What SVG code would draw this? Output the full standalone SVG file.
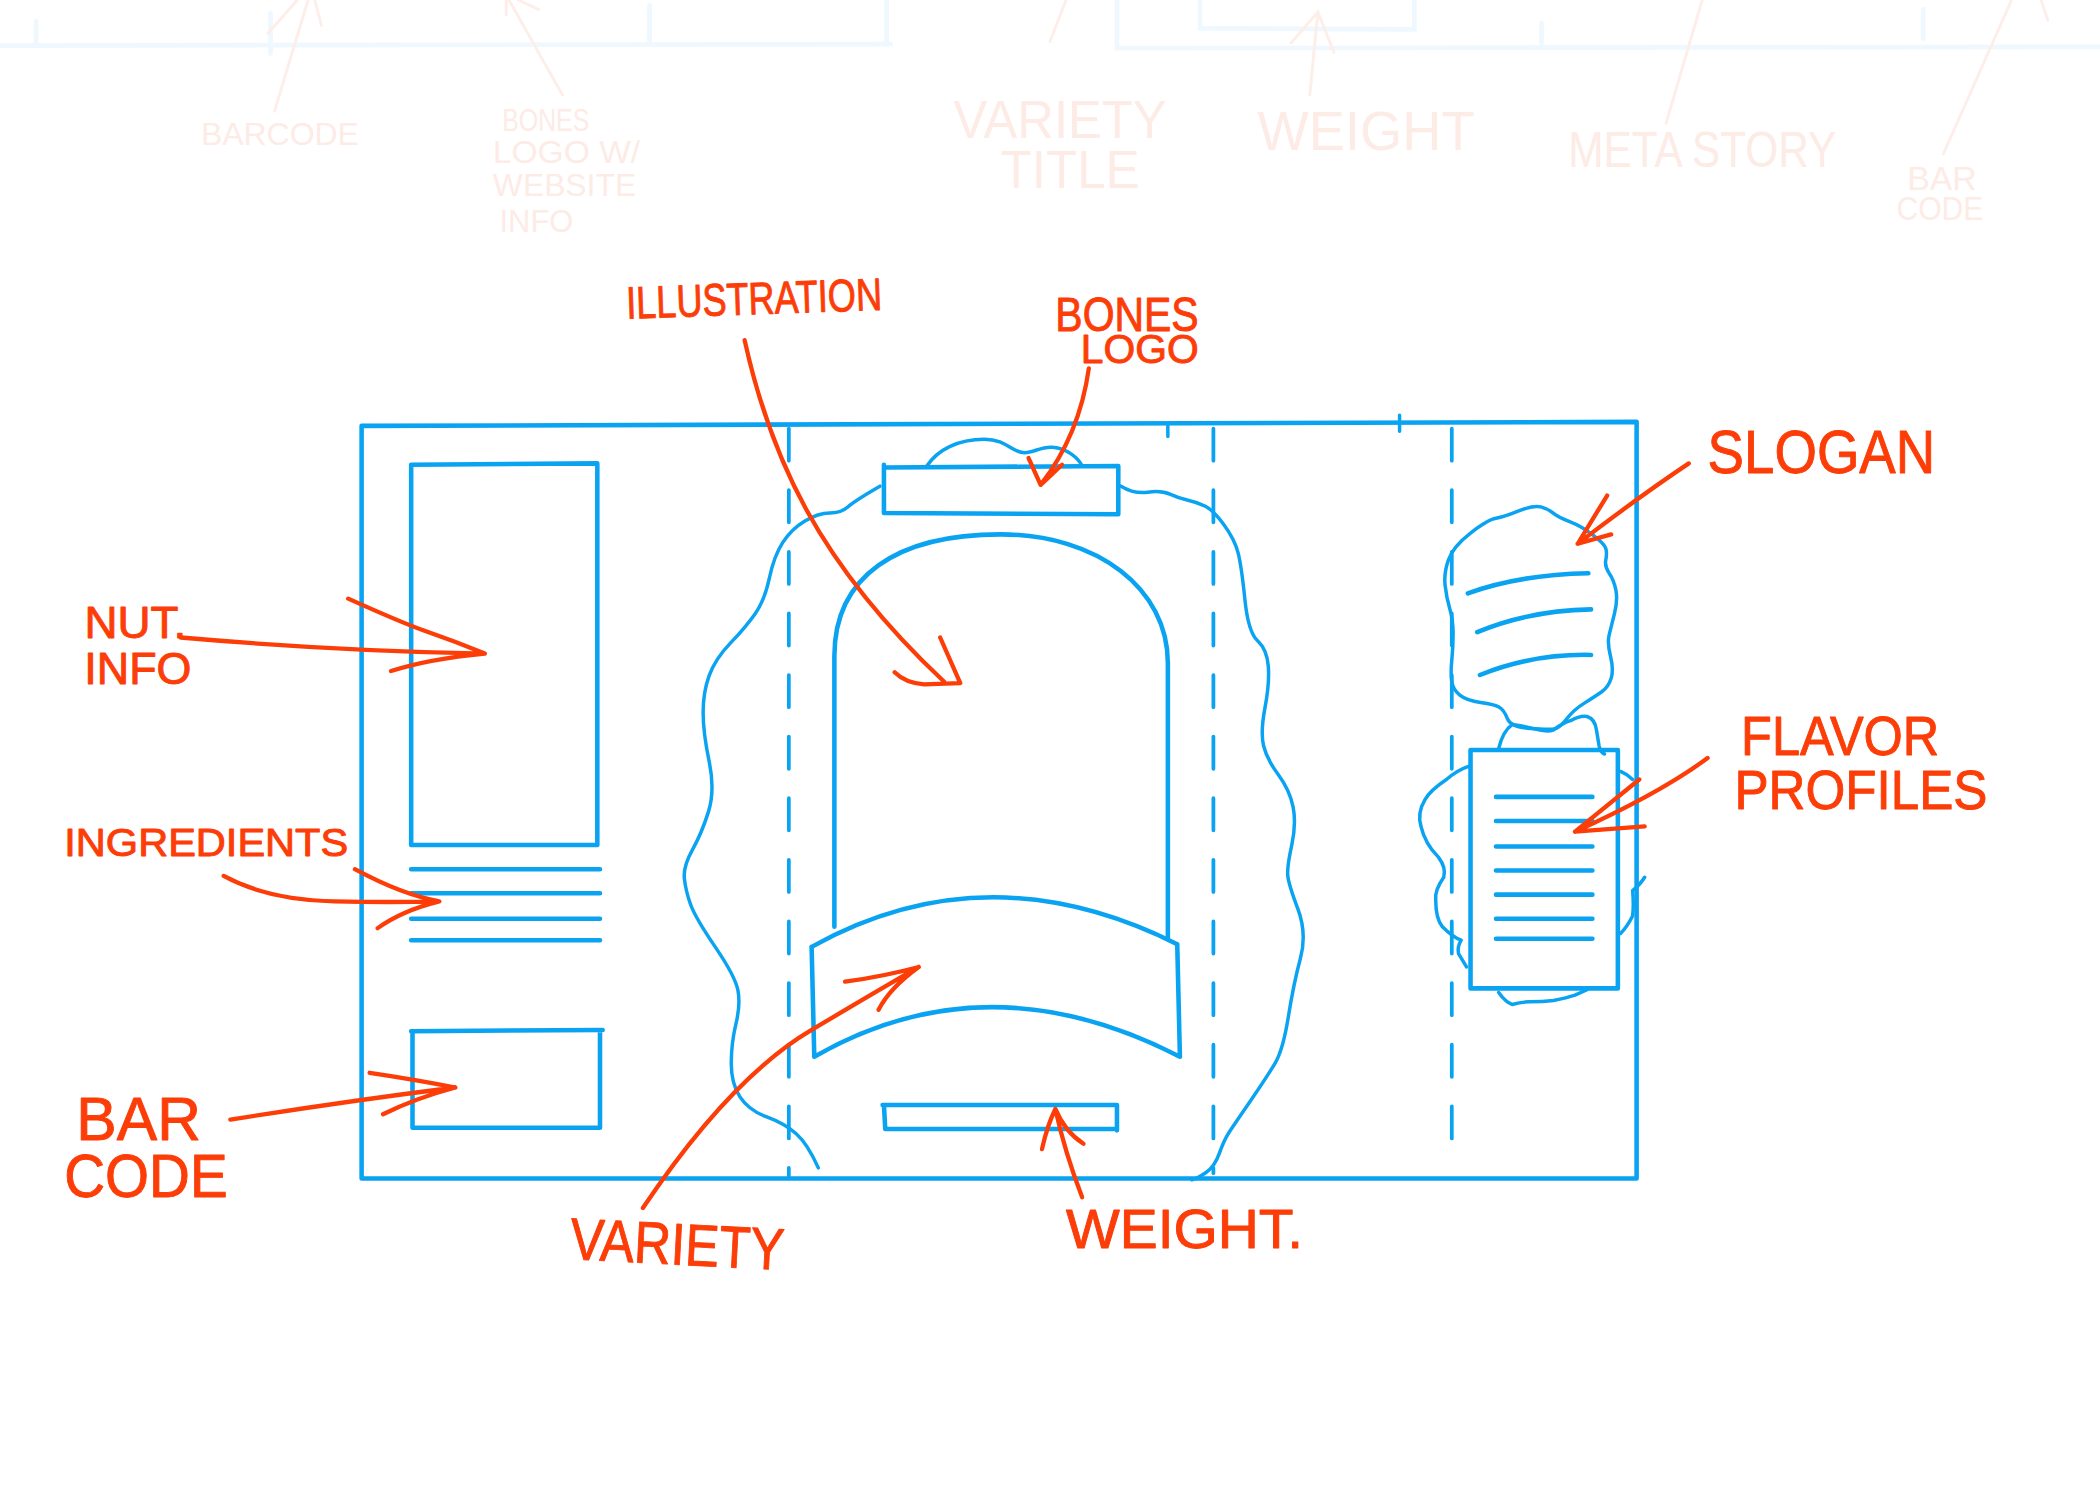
<svg xmlns="http://www.w3.org/2000/svg" width="2100" height="1500" viewBox="0 0 2100 1500">
<style>
.b{fill:none;stroke:#0aa3f2;stroke-width:3.4;stroke-linecap:round;stroke-linejoin:round}
.bt{fill:none;stroke:#0aa3f2;stroke-width:2.6;stroke-linecap:round;stroke-linejoin:round}
.d{fill:none;stroke:#0aa3f2;stroke-width:2.8;stroke-linecap:round;stroke-dasharray:24 22}
.r{fill:none;stroke:#fc3d08;stroke-width:3.2;stroke-linecap:round;stroke-linejoin:round}
.t{font-family:"Liberation Sans",Arial,sans-serif;fill:#fc3d08;stroke:#fc3d08;stroke-width:0.7;stroke-linejoin:round}
.gt{font-family:"Liberation Sans",Arial,sans-serif;fill:#fdebe6}
.gr{fill:none;stroke:#fdeee9;stroke-width:2.2;stroke-linecap:round}
.gb{fill:none;stroke:#eef8fe;stroke-width:3.5;stroke-linecap:round}
</style>
<rect width="2100" height="1500" fill="#ffffff"/>
<g transform="scale(1.339286)">
  <g id="ghost">
    <path class="gb" d="M0 34 L665 33 M662 0 L662 32 M834 0 L834 36 L1568 35 M896 0 L896 21 L1056 22 L1056 0 M27 16 L27 32 M202 10 L202 40 M485 4 L485 31 M1151 17 L1151 32 M1436 7 L1436 29"/>
    <path class="gr" d="M205 83 L230 0 M235 0 L240 19 M200 25 L222 0 M420 71 L380 0 M378 0 L378 11 M387 0 L402 7 M978 71 L984 9 M964 32 L984 9 L996 39 M1244 92 L1271 0 M1451 115 L1502 0 M1524 0 L1529 15 M784 31 L796 0"/>
    <text class="gt" x="150" y="108" font-size="24" textLength="118" lengthAdjust="spacingAndGlyphs">BARCODE</text>
    <text class="gt" font-size="23"><tspan x="375" y="98" textLength="65" lengthAdjust="spacingAndGlyphs">BONES</tspan><tspan x="368" y="122" textLength="110" lengthAdjust="spacingAndGlyphs">LOGO W/</tspan><tspan x="368" y="146" textLength="107" lengthAdjust="spacingAndGlyphs">WEBSITE</tspan><tspan x="373" y="173" textLength="55" lengthAdjust="spacingAndGlyphs">INFO</tspan></text>
    <text class="gt" font-size="40"><tspan x="712" y="103" textLength="159" lengthAdjust="spacingAndGlyphs">VARIETY</tspan><tspan x="747" y="140" textLength="104" lengthAdjust="spacingAndGlyphs">TITLE</tspan></text>
    <text class="gt" x="939" y="112" font-size="42" textLength="162" lengthAdjust="spacingAndGlyphs">WEIGHT</text>
    <text class="gt" x="1171" y="125" font-size="37" textLength="200" lengthAdjust="spacingAndGlyphs">META STORY</text>
    <text class="gt" font-size="25"><tspan x="1424" y="142" textLength="52" lengthAdjust="spacingAndGlyphs">BAR</tspan><tspan x="1416" y="164" textLength="65" lengthAdjust="spacingAndGlyphs">CODE</tspan></text>
  </g>

  <g id="package">
    <path class="b" d="M270 318 L1222 315 L1222 880 L270 880 Z"/>
    <path class="bt" d="M872 318 L872 326 M1045 310 L1045 322"/>
  </g>
  <g id="fold-lines">
    <path class="d" d="M589 320 L589 878"/>
    <path class="d" d="M906 320 L906 876"/>
    <path class="d" d="M1084 320 L1084 868"/>
  </g>

  <g id="nut-info">
    <path class="b" d="M307 347 L446 346 L446 631 L307 631 Z"/>
  </g>
  <g id="ingredients">
    <path class="b" d="M307 649 L448 649 M307 667 L448 667 M307 686 L448 686 M307 702 L448 702"/>
  </g>
  <g id="barcode">
    <path class="b" d="M307 770 L450 769 M308 770 L308 842 L448 842 L448 771"/>
  </g>

  <g id="illustration">
    <path class="bt" d="M657 363 Q638 374 633 378.5 Q628 383 619.5 383 Q611 383 601 389 Q591 395 584.5 405 Q578 415 574.5 431.5 Q571 448 564 458 Q557 468 545.5 480 Q534 492 529.5 504.5 Q525 517 525 532 Q525 547 529.5 568.5 Q534 590 529 606 Q524 622 517 634.5 Q510 647 511 656 Q512 665 515.5 675 Q519 685 534 707 Q549 729 551 739.5 Q553 750 549.5 764.5 Q546 779 546 794 Q546 809 552.5 819 Q559 829 572.5 834 Q586 839 594.5 846.5 Q603 854 611 872"/>
    <path class="bt" d="M837 363 Q847 369 857 367.5 Q867 366 873.5 369 Q880 372 887 373.5 Q894 375 900 378 Q906 381 914 392 Q922 403 924.5 413 Q927 423 929.5 447.5 Q932 472 939 478.5 Q946 485 947 497.5 Q948 510 944.5 528.5 Q941 547 943.5 557 Q946 567 954.5 578.5 Q963 590 965.5 602.5 Q968 615 964.5 631 Q961 647 961.5 653.5 Q962 660 969 678.5 Q976 697 971 715.5 Q966 734 962 759 Q958 784 952 794 Q946 804 934 821.5 Q922 839 918 845 Q914 851 910.5 861 Q907 871 900.5 875.5 Q894 880 890 881"/>
    <path class="bt" d="M692 348 C700 336 715 328 735 328 C752 328 755 338 765 338 C772 338 778 333 786 334 C797 335 805 342 808 348"/>
    <path class="b" d="M623 692 L623 490 C623 430 670 399 747 399 C820 399 872 440 872 495 L872 701"/>
  </g>
  <g id="bones-logo">
    <path class="b" d="M660 349 L835 348 L835 384 M660 347 L660 383 L834 384"/>
  </g>
  <g id="variety">
    <path class="b" d="M606 707 Q737 634 879 705 M608 789 Q737 715 881 789 M606 707 L608 789 M879 705 L881 789"/>
  </g>
  <g id="weight">
    <path class="b" d="M659 825 L834 825 L834 844 M660 825 L661 843 L834 843"/>
  </g>

  <g id="slogan">
    <path class="bt" d="M1081.5 418 Q1085 408 1098 398 Q1111 388 1117 387 Q1123 386 1134 381.5 Q1145 377 1150.5 378.5 Q1156 380 1159.5 383 Q1163 386 1172 389.5 Q1181 393 1189.5 399.5 Q1198 406 1199 409.5 Q1200 413 1199 418 Q1198 423 1201.5 428 Q1205 433 1206.5 440.5 Q1208 448 1205.5 458 Q1203 468 1201.5 474 Q1200 480 1202.5 490 Q1205 500 1203 506.5 Q1201 513 1196 516.5 Q1191 520 1183 525 Q1175 530 1170 536.5 Q1165 543 1161.5 544 Q1158 545 1143 544 Q1128 543 1125.5 536.5 Q1123 530 1119.5 528 Q1116 526 1105.5 524.5 Q1095 523 1090 519 Q1085 515 1084 509 Q1083 503 1084 493 Q1085 483 1085 473 Q1085 463 1082.5 454.5 Q1080 446 1079 437 Q1078 428 1081.5 418 Z"/>
    <path class="b" d="M1096 443 Q1135 429 1186 428 M1103 472 Q1141 456 1188 455 M1105 504 Q1145 488 1188 489"/>
  </g>
  <g id="flavor-profiles">
    <path class="bt" d="M1119 559 Q1122 546 1129 541 Q1137 542 1145 544 Q1155 547 1160 545 Q1168 539 1173 538 Q1180 534 1185 535 Q1191 537 1192 545 L1194 557 Q1195 562 1198 563"/>
    <path class="bt" d="M1097 572 Q1088 575 1080 582 Q1068 590 1064 597 Q1058 607 1061 617 Q1064 630 1074 640 Q1080 648 1078 655 Q1071 665 1072 672 Q1072 686 1077 692 Q1085 700 1091 702 Q1088 707 1089 712 L1095 722"/>
    <path class="bt" d="M1210 576 Q1215 578 1219 582 M1228 655 Q1225 660 1219 665 Q1220 676 1219 684 Q1215 692 1210 697 M1119 741 Q1124 748 1129 750 Q1136 748 1142 748 Q1152 748 1160 747 Q1170 745 1176 743 L1185 739"/>
    <path class="b" d="M1098 560 L1208 560 L1208 738 L1098 738 Z"/>
    <path class="b" d="M1117 595 L1189 595 M1117 613 L1189 613 M1117 632 L1189 632 M1117 650 L1189 650 M1117 668 L1189 668 M1117 686 L1189 686 M1117 701 L1189 701"/>
  </g>

  <g id="connectors">
    <path class="r" d="M556 254 C575 340 610 420 705 509 M702 476 L717 510 M668 502 Q676 510 690 511 L717 510"/>
    <path class="r" d="M813 275 Q806 325 777 362 M768 342 L777 362 L793 347"/>
    <path class="r" d="M1261 346 Q1225 370 1178 406 M1200 370 L1178 406 L1203 399"/>
    <path class="r" d="M1275 566 Q1240 592 1176 621 M1224 582 L1176 621 L1228 617"/>
    <path class="r" d="M135 476 Q250 486 362 488 M260 447 Q300 465 317 471 Q340 479 362 488 M292 501 Q320 492 362 488"/>
    <path class="r" d="M167 654 Q200 672 250 673 Q290 674 328 673 M265 649 Q300 668 328 673 M282 693 Q300 680 328 673"/>
    <path class="r" d="M172 836 Q260 822 340 812 M276 801 Q310 806 340 812 M286 832 Q310 820 340 812"/>
    <path class="r" d="M480 902 Q545 805 606 769 Q643 747 686 722 M631 733 Q660 729 686 722 M656 754 Q664 738 686 722"/>
    <path class="r" d="M808 894 Q795 860 788 828 M778 858 Q782 840 788 828 Q795 845 809 854"/>
  </g>

  <g id="labels">
    <text class="t" x="468" y="238" font-size="34" textLength="191" lengthAdjust="spacingAndGlyphs" transform="rotate(-2 468 238)">ILLUSTRATION</text>
    <text class="t" font-size="36"><tspan x="788" y="247" textLength="107" lengthAdjust="spacingAndGlyphs">BONES</tspan><tspan x="807" y="271" font-size="31" textLength="88" lengthAdjust="spacingAndGlyphs">LOGO</tspan></text>
    <text class="t" x="1275" y="353" font-size="45" textLength="170" lengthAdjust="spacingAndGlyphs">SLOGAN</text>
    <text class="t" font-size="42"><tspan x="1300" y="564" textLength="148" lengthAdjust="spacingAndGlyphs">FLAVOR</tspan><tspan x="1295" y="604" textLength="189" lengthAdjust="spacingAndGlyphs">PROFILES</tspan></text>
    <text class="t" font-size="33"><tspan x="63" y="476" textLength="76" lengthAdjust="spacingAndGlyphs">NUT.</tspan><tspan x="63" y="511" textLength="80" lengthAdjust="spacingAndGlyphs">INFO</tspan></text>
    <text class="t" x="48" y="639" font-size="29" textLength="212" lengthAdjust="spacingAndGlyphs">INGREDIENTS</text>
    <text class="t" font-size="46"><tspan x="57" y="851" textLength="93" lengthAdjust="spacingAndGlyphs">BAR</tspan><tspan x="48" y="894" textLength="122" lengthAdjust="spacingAndGlyphs">CODE</tspan></text>
    <text class="t" x="425" y="940" font-size="44" textLength="160" lengthAdjust="spacingAndGlyphs" transform="rotate(3 425 940)">VARIETY</text>
    <text class="t" x="796" y="932" font-size="42" textLength="177" lengthAdjust="spacingAndGlyphs">WEIGHT.</text>
  </g>
</g>
</svg>
